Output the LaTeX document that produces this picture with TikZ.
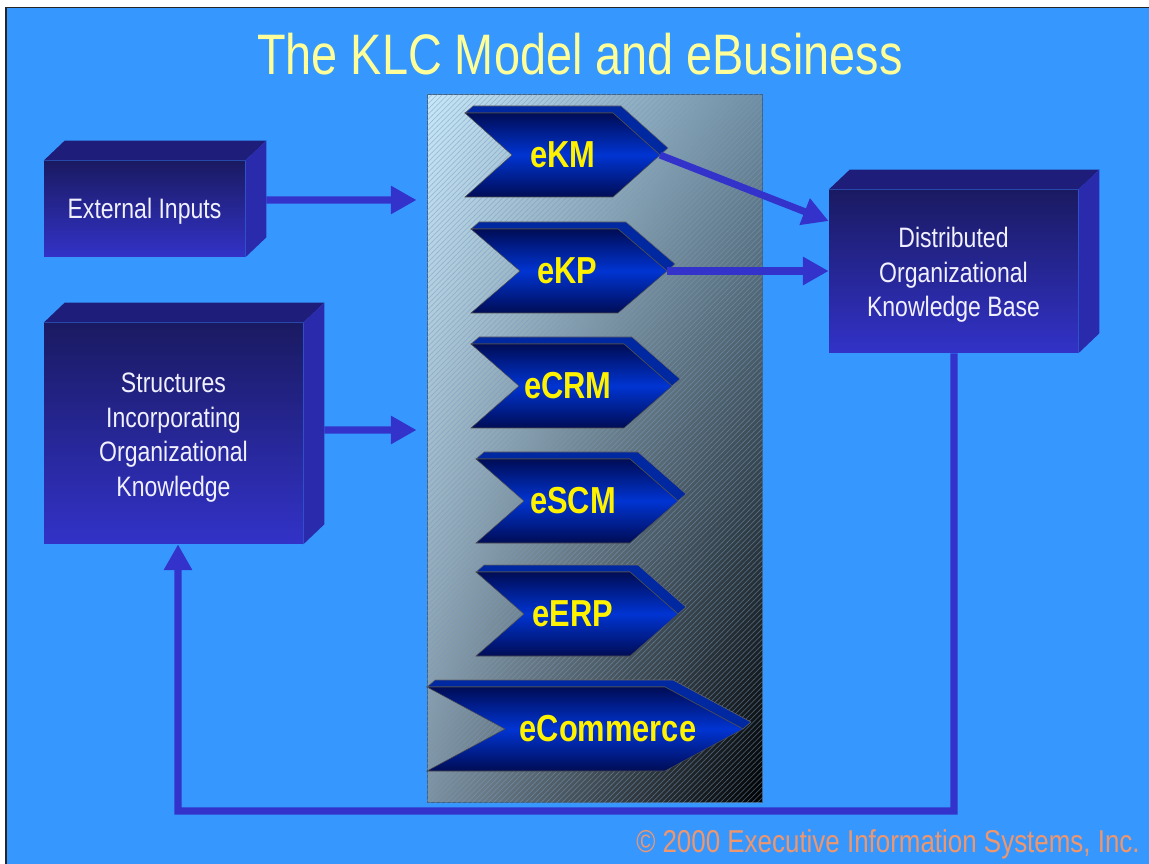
\documentclass[tikz,border=0pt]{standalone}
\usepackage{fontspec}
\newfontfamily\narrowfont[FakeStretch=0.82]{Liberation Sans}
\usepackage{tikz}
\usetikzlibrary{arrows.meta, patterns, shadings, positioning}

\definecolor{slideblue}{RGB}{54,152,255}
\definecolor{arrowblue}{RGB}{51,51,204}
\definecolor{boxtop}{RGB}{26,26,98}
\definecolor{boxbottom}{RGB}{50,50,200}
\definecolor{boxlid}{RGB}{30,30,122}
\definecolor{boxside}{RGB}{42,42,172}
\definecolor{chevdark}{RGB}{0,12,85}
\definecolor{chevlight}{RGB}{0,52,210}
\definecolor{chevband}{RGB}{0,40,160}
\definecolor{titleyellow}{RGB}{255,255,153}
\definecolor{copyorange}{RGB}{238,150,110}
\definecolor{hatch}{RGB}{120,155,190}
\definecolor{panelul}{RGB}{200,232,250}
\definecolor{panelur}{RGB}{112,142,162}
\definecolor{panelll}{RGB}{125,145,160}
\definecolor{panelrim}{RGB}{60,100,140}

% 3d lid and side of a box node
\newcommand{\boxlid}[1]{%
  \fill[boxlid] (#1.north west) -- ++(21,-20) -- ([shift={(21,-20)}]#1.north east) -- (#1.north east) -- cycle;
  \fill[boxside] (#1.north east) -- ++(21,-20) -- ([shift={(21,-20)}]#1.south east) -- (#1.south east) -- cycle;
}

% chevron: name, left, center y, shoulder, tip, label x, label
\newcommand{\chevron}[7]{%
  \fill[chevband, draw=black!60, line width=0.3pt] (#2,#3-42) -- ++(8,-7) -- (#4+8,#3-49) -- (#5+8,#3-7) -- (#5,#3) -- (#4,#3-42) -- cycle;
  \shade[top color=chevdark, bottom color=chevdark, middle color=chevlight, draw=black!70, line width=0.3pt]
    (#2,#3-42) -- (#4,#3-42) -- (#5,#3) -- (#4,#3+42) -- (#2,#3+42) -- (#2+#5-#4,#3) -- cycle;
  \coordinate (#1-tip) at (#5,#3);
  \node[chevtext] (#1) at (#6,#3) {#7};
}

\begin{document}
\begin{tikzpicture}[x=0.02cm, y=-0.02cm,
    boxnode/.style={rectangle,
                    inner sep=0pt,
                    top color=boxtop,
                    bottom color=boxbottom,
                    text=white!94!blue,
                    align=center,
                    font=\narrowfont\fontsize{16}{19.6}\selectfont},
    chevtext/.style={inner sep=0pt,
                    text=yellow,
                    font=\narrowfont\bfseries\fontsize{21.4}{24}\selectfont},
    flow/.style={arrowblue,
                    line width=4pt,
                    -{Triangle[length=14.7pt, width=15.3pt]}}
    ]

\useasboundingbox (0,0) rectangle (1149,864);

% slide background
\fill[white] (0,0) rectangle (1149,864);
\fill[slideblue] (6,8) rectangle (1149,864);
\draw[black!85, line width=1pt] (6,864) -- (6,7.5) -- (1149,7.5);

% title
\node[text=titleyellow, font=\narrowfont\fontsize{32.5}{39}\selectfont] (title) at (580,54) {The KLC Model and eBusiness};

% middle panel
\node[rectangle, minimum width=6.7cm, minimum height=14.18cm, inner sep=0pt,
      upper left=panelul, upper right=panelur, lower left=panelll, lower right=black,
      draw=panelrim, line width=0.5pt] (panel) at (594.5,448.5) {};
\fill[pattern=north east lines, pattern color=hatch, opacity=0.5] (panel.south west) rectangle (panel.north east);

% chevrons
\chevron{ekm}{465}{155}{613}{660}{563}{eKM}
\chevron{ekp}{471}{271}{618}{667}{567}{eKP}
\chevron{ecrm}{471}{386}{624}{672}{568}{eCRM}
\chevron{escm}{476}{501}{630}{678}{573}{eSCM}
\chevron{eerp}{476}{614}{630}{678}{573}{eERP}
\chevron{ecom}{427}{729}{665}{743}{608}{eCommerce}

% boxes
\node[boxnode, minimum width=4.02cm, minimum height=1.92cm] (extin) at (144.5,209) {\raisebox{-1.4pt}[\height][\depth]{External Inputs}};
\boxlid{extin}
\node[boxnode, minimum width=5.18cm, minimum height=4.42cm] (sio) at (173.5,433.5) {\raisebox{-2.3pt}[\height][\depth]{\begin{tabular}{@{}c@{}}Structures\\Incorporating\\Organizational\\Knowledge\end{tabular}}};
\boxlid{sio}
\node[boxnode, minimum width=4.98cm, minimum height=3.26cm] (dokb) at (953.5,271.5) {\raisebox{-2.3pt}[\height][\depth]{\begin{tabular}{@{}c@{}}Distributed\\Organizational\\Knowledge Base\end{tabular}}};
\boxlid{dokb}

% arrows
\draw[flow, shorten >=0.2cm] ([shift={(21,-9)}]extin.east) -- ([yshift={0.18cm}]extin.east -| panel.west);
\draw[flow, shorten >=0.2cm] ([shift={(21,-3.5)}]sio.east) -- ([yshift={0.07cm}]sio.east -| panel.west);
\draw[flow] (ekm-tip) -- (dokb.158);
\draw[flow] (ekp-tip) -- (ekp-tip -| dokb.west);

% feedback loop
\coordinate (loopbase) at (178,811);
\draw[flow] ([xshift=0.01cm]dokb.south) |- (loopbase) -- ([xshift=0.09cm]sio.south);

% footer
\node[anchor=base east, text=copyorange, inner sep=0pt, font=\narrowfont\fontsize{18}{20}\selectfont] (copy) at (1140,852) {© 2000 Executive Information Systems, Inc.};

\end{tikzpicture}
\end{document}
